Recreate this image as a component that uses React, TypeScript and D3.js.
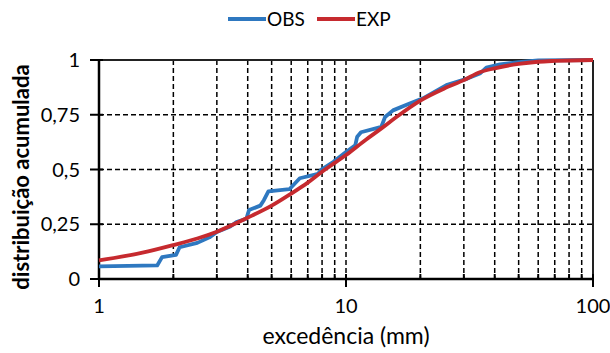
import React from "react";
import * as d3 from "d3";

const obsX = [1, 1.72, 1.8, 2.05, 2.12, 2.5, 2.8, 3.0, 3.4, 3.6, 3.95, 4.05, 4.5, 4.65, 4.85, 5.9, 6.5, 7.7, 7.95, 8.9, 10, 10.9, 11.1, 11.5, 13.9, 14.4, 15.5, 18, 20.5, 25.5, 31, 35, 37, 42, 50, 60, 100];
const obsY = [0.058, 0.062, 0.1, 0.11, 0.145, 0.165, 0.19, 0.215, 0.24, 0.26, 0.275, 0.315, 0.335, 0.36, 0.4, 0.41, 0.46, 0.48, 0.5, 0.535, 0.58, 0.61, 0.65, 0.67, 0.695, 0.74, 0.77, 0.8, 0.825, 0.885, 0.915, 0.94, 0.965, 0.98, 0.99, 0.998, 1.0];

const expX = [1, 1.5, 2, 2.5, 3, 4, 5, 6, 7, 8, 9, 10, 12, 14, 16, 20, 25, 30, 35, 40, 50, 60, 70, 100];
const expY = [0.085, 0.12, 0.155, 0.185, 0.216, 0.28, 0.335, 0.39, 0.44, 0.49, 0.53, 0.566, 0.635, 0.69, 0.74, 0.815, 0.87, 0.908, 0.945, 0.962, 0.982, 0.992, 0.996, 1.0];

const yTicks = [0, 0.25, 0.5, 0.75, 1];
const yTickLabels = ["0", "0,25", "0,5", "0,75", "1"];
const xMajor = [1, 10, 100];
const xMinor = [2, 3, 4, 5, 6, 7, 8, 9, 20, 30, 40, 50, 60, 70, 80, 90];
const seriesNames = ["OBS", "EXP"];
const seriesColors = ["#2e78c0", "#c62a2f"];

const FONT = "Lato, 'Open Sans', sans-serif";

export default function App() {
  const L = 99, R = 593, T = 60, B = 279;
  const x = d3.scaleLog().domain([1, 100]).range([L, R]);
  const y = d3.scaleLinear().domain([0, 1]).range([B, T]);

  const line = d3.line<[number, number]>().x(d => x(d[0])).y(d => y(d[1]));
  const smooth = d3.line<[number, number]>().x(d => x(d[0])).y(d => y(d[1])).curve(d3.curveMonotoneX);

  const obs = obsX.map((v, i) => [v, obsY[i]] as [number, number]);
  const exp = expX.map((v, i) => [v, expY[i]] as [number, number]);

  return (
    <svg width={610} height={353} style={{ position: "absolute", left: 0, top: 0, background: "#fff" }} fontFamily={FONT}>
      {/* grid */}
      {[...xMinor, 10].map(v => (
        <line key={"gx" + v} x1={x(v)} x2={x(v)} y1={T} y2={B} stroke="#000" strokeWidth={1.5} strokeDasharray="5,3" />
      ))}
      {[0.25, 0.5, 0.75].map(v => (
        <line key={"gy" + v} x1={L} x2={R} y1={y(v)} y2={y(v)} stroke="#000" strokeWidth={1.5} strokeDasharray="5,3" />
      ))}
      {/* frame */}
      <line x1={L} x2={R} y1={T} y2={T} stroke="#222" strokeWidth={2} />
      <line x1={R} x2={R} y1={T} y2={B} stroke="#222" strokeWidth={2} />
      <line x1={L} x2={L} y1={T} y2={B} stroke="#000" strokeWidth={2.5} />
      <line x1={L} x2={R} y1={B} y2={B} stroke="#000" strokeWidth={2.5} />
      {/* y ticks */}
      {yTicks.map((v, i) => (
        <g key={"yt" + v}>
          <line x1={L - 9} x2={L + 4} y1={y(v)} y2={y(v)} stroke="#000" strokeWidth={2} />
          <text x={L - 19} y={y(v)} dy="0.35em" textAnchor="end" fontSize={20} fill="#000">{yTickLabels[i]}</text>
        </g>
      ))}
      {/* x ticks */}
      {xMajor.map(v => (
        <g key={"xt" + v}>
          <line x1={x(v)} x2={x(v)} y1={B - 5} y2={B + 8} stroke="#000" strokeWidth={2} />
          <text x={x(v)} y={B + 34} textAnchor="middle" fontSize={20} fill="#000">{v}</text>
        </g>
      ))}
      {xMinor.map(v => (
        <line key={"xm" + v} x1={x(v)} x2={x(v)} y1={B - 5} y2={B} stroke="#000" strokeWidth={2} />
      ))}
      {/* series */}
      <path d={line(obs) || ""} fill="none" stroke={seriesColors[0]} strokeWidth={3.8} strokeLinejoin="round" />
      <path d={smooth(exp) || ""} fill="none" stroke={seriesColors[1]} strokeWidth={3.8} strokeLinejoin="round" />
      {/* axis titles */}
      <text x={(L + R) / 2} y={344} textAnchor="middle" fontSize={23} fill="#000">excedência (mm)</text>
      <text transform={`translate(29,177) rotate(-90)`} textAnchor="middle" fontSize={22} fontWeight="bold" fill="#000">distribuição acumulada</text>
      {/* legend */}
      <line x1={228} x2={266} y1={19} y2={19} stroke={seriesColors[0]} strokeWidth={3.8} />
      <text x={267} y={19} dy="0.35em" fontSize={19} fill="#000">{seriesNames[0]}</text>
      <line x1={317} x2={355} y1={19} y2={19} stroke={seriesColors[1]} strokeWidth={3.8} />
      <text x={356} y={19} dy="0.35em" fontSize={19} fill="#000">{seriesNames[1]}</text>
    </svg>
  );
}
